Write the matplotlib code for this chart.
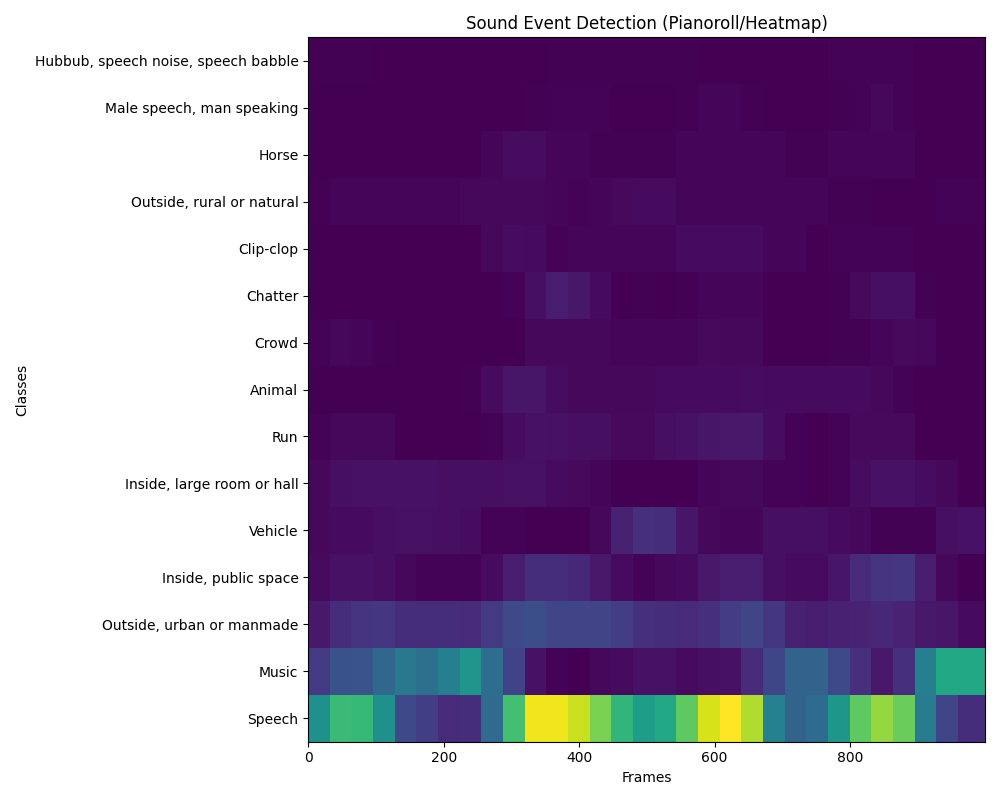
import numpy as np
import matplotlib
matplotlib.use("Agg")
import matplotlib.pyplot as plt

N_FRAMES = 1000
HOP = 32

# bottom row first
classes = [
    "Speech", "Music", "Outside, urban or manmade", "Inside, public space",
    "Vehicle", "Inside, large room or hall", "Run", "Animal", "Crowd",
    "Chatter", "Clip-clop", "Outside, rural or natural", "Horse",
    "Male speech, man speaking", "Hubbub, speech noise, speech babble",
]

speech = [0.50, 0.68, 0.67, 0.50, 0.22, 0.18, 0.12, 0.13, 0.35, 0.70, 0.98, 0.98, 0.92, 0.80, 0.66, 0.56,
          0.60, 0.75, 0.94, 1.00, 0.88, 0.44, 0.32, 0.35, 0.53, 0.75, 0.84, 0.77, 0.42, 0.21, 0.13]
music = [0.17, 0.25, 0.26, 0.33, 0.40, 0.37, 0.43, 0.52, 0.36, 0.20, 0.05, 0.01, 0.00, 0.02, 0.03, 0.05,
         0.05, 0.03, 0.04, 0.05, 0.12, 0.21, 0.32, 0.32, 0.22, 0.14, 0.07, 0.14, 0.43, 0.60, 0.60]
urban = [0.07, 0.13, 0.15, 0.16, 0.13, 0.13, 0.13, 0.12, 0.17, 0.22, 0.24, 0.21, 0.21, 0.21, 0.18, 0.14,
         0.13, 0.12, 0.14, 0.18, 0.21, 0.16, 0.09, 0.08, 0.09, 0.10, 0.11, 0.10, 0.07, 0.06, 0.03]
public_space = [0.03, 0.05, 0.05, 0.04, 0.02, 0.01, 0.01, 0.01, 0.03, 0.08, 0.13, 0.13, 0.11, 0.07, 0.03, 0.01,
                0.02, 0.03, 0.07, 0.08, 0.08, 0.04, 0.03, 0.03, 0.06, 0.12, 0.15, 0.16, 0.08, 0.02, 0.00]
vehicle = [0.02, 0.03, 0.03, 0.04, 0.045, 0.045, 0.04, 0.035, 0.01, 0.01, 0.00, 0.00, 0.00, 0.02, 0.09, 0.14,
           0.13, 0.06, 0.02, 0.015, 0.015, 0.04, 0.04, 0.04, 0.03, 0.02, 0.005, 0.005, 0.005, 0.04, 0.05]
large_room = [0.02, 0.04, 0.05, 0.05, 0.05, 0.05, 0.04, 0.04, 0.04, 0.045, 0.045, 0.03, 0.025, 0.015, 0.00, 0.00,
              0.00, 0.00, 0.015, 0.02, 0.02, 0.01, 0.01, 0.00, 0.01, 0.035, 0.05, 0.05, 0.035, 0.02, 0.00]
run = [0.01, 0.02, 0.02, 0.02, 0.00, 0.00, 0.00, 0.00, 0.01, 0.035, 0.05, 0.045, 0.04, 0.04, 0.025, 0.025,
       0.04, 0.05, 0.06, 0.07, 0.07, 0.035, 0.01, 0.00, 0.01, 0.025, 0.025, 0.025, 0.00, 0.00, 0.00]
animal = [0.00, 0.00, 0.00, 0.00, 0.00, 0.00, 0.00, 0.005, 0.03, 0.06, 0.06, 0.035, 0.02, 0.02, 0.02, 0.02,
          0.03, 0.03, 0.03, 0.03, 0.035, 0.03, 0.03, 0.03, 0.03, 0.03, 0.02, 0.01, 0.00, 0.00, 0.00]
crowd = [0.01, 0.02, 0.015, 0.005, 0.00, 0.00, 0.00, 0.00, 0.00, 0.00, 0.02, 0.02, 0.02, 0.02, 0.015, 0.015,
         0.015, 0.015, 0.025, 0.02, 0.02, 0.00, 0.00, 0.00, 0.005, 0.005, 0.015, 0.025, 0.02, 0.00, 0.00]
chatter = [0.00, 0.00, 0.00, 0.00, 0.00, 0.00, 0.00, 0.00, 0.00, 0.01, 0.04, 0.075, 0.065, 0.03, 0.00, 0.005,
           0.00, 0.005, 0.015, 0.015, 0.015, 0.00, 0.00, 0.00, 0.005, 0.025, 0.04, 0.04, 0.005, 0.00, 0.00]
clip_clop = [0.00, 0.00, 0.00, 0.00, 0.00, 0.00, 0.00, 0.00, 0.02, 0.035, 0.03, 0.01, 0.012, 0.012, 0.012, 0.012,
             0.015, 0.03, 0.03, 0.03, 0.03, 0.015, 0.015, 0.00, 0.01, 0.01, 0.01, 0.01, 0.00, 0.00, 0.00]
rural = [0.005, 0.012, 0.012, 0.012, 0.012, 0.012, 0.012, 0.02, 0.02, 0.02, 0.02, 0.012, 0.01, 0.015, 0.025, 0.03,
         0.03, 0.012, 0.012, 0.012, 0.012, 0.012, 0.012, 0.012, 0.005, 0.005, 0.00, 0.00, 0.00, 0.008, 0.008]
horse = [0.00, 0.00, 0.00, 0.00, 0.00, 0.00, 0.00, 0.00, 0.015, 0.035, 0.035, 0.015, 0.015, 0.005, 0.005, 0.005,
         0.005, 0.012, 0.012, 0.012, 0.012, 0.012, 0.005, 0.005, 0.012, 0.012, 0.012, 0.012, 0.00, 0.00, 0.00]
male_speech = [0.00, 0.00, 0.00, 0.00, 0.00, 0.00, 0.00, 0.00, 0.00, 0.00, 0.005, 0.01, 0.01, 0.01, 0.00, 0.00,
               0.00, 0.006, 0.015, 0.015, 0.006, 0.00, 0.00, 0.00, 0.006, 0.01, 0.022, 0.01, 0.00, 0.00, 0.00]
hubbub = [0.005, 0.005, 0.005, 0.00, 0.00, 0.00, 0.00, 0.00, 0.00, 0.00, 0.00, 0.004, 0.004, 0.004, 0.004, 0.005,
          0.005, 0.005, 0.00, 0.00, 0.00, 0.00, 0.00, 0.00, 0.008, 0.008, 0.008, 0.008, 0.00, 0.00, 0.00]

rows = [speech, music, urban, public_space, vehicle, large_room, run, animal, crowd,
        chatter, clip_clop, rural, horse, male_speech, hubbub]

# model outputs one value per hop, stretch back to frames
probs = np.array(rows)
hops = np.full(probs.shape[1], HOP)
hops[-1] = N_FRAMES - HOP * (probs.shape[1] - 1)
pianoroll = np.repeat(probs, hops, axis=1)

fig, ax = plt.subplots(figsize=(10, 8))
ax.imshow(pianoroll, aspect="auto", origin="lower", cmap="viridis", interpolation="nearest")
ax.set_yticks(np.arange(len(classes)))
ax.set_yticklabels(classes)
ax.set_xlabel("Frames")
ax.set_ylabel("Classes")
ax.set_title("Sound Event Detection (Pianoroll/Heatmap)")
plt.tight_layout()
plt.savefig("out.png", dpi=100)
